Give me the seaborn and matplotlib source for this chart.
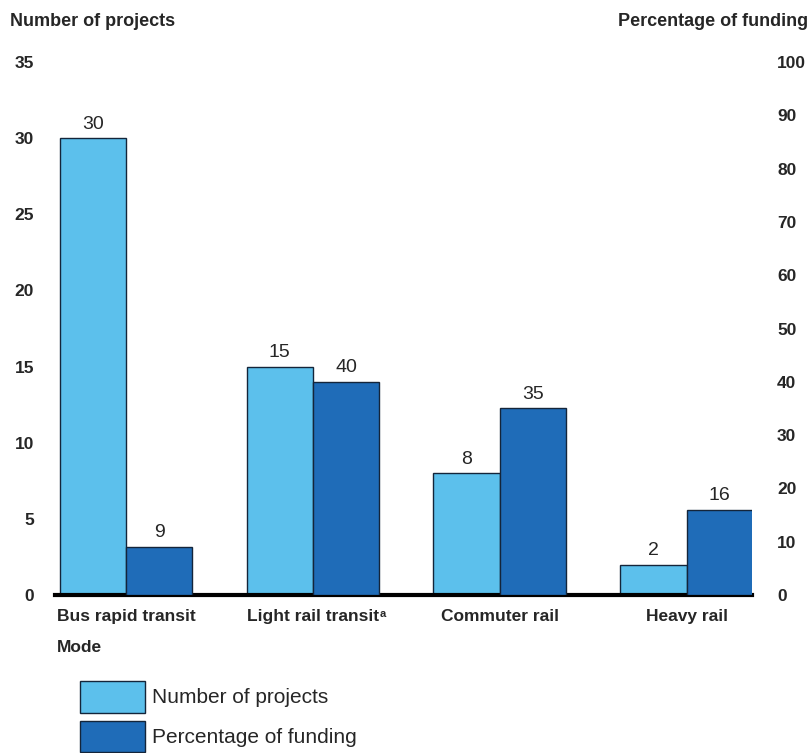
import matplotlib.pyplot as plt
import seaborn as sns
import pandas as pd
from matplotlib.patches import Patch

# data
modes = ["Bus rapid transit", "Light rail transit", "Commuter rail", "Heavy rail"]
num_projects = [30, 15, 8, 2]
pct_funding = [9, 40, 35, 16]
series = ["Number of projects", "Percentage of funding"]
colors = ["#5cc0ec", "#1f6cb8"]
left_ticks = [0, 5, 10, 15, 20, 25, 30, 35]
right_ticks = [0, 10, 20, 30, 40, 50, 60, 70, 80, 90, 100]

sns.set_style("white")
plt.rcParams['font.family'] = ['Liberation Sans', 'DejaVu Sans']

df_num = pd.DataFrame({"mode": modes, "value": num_projects, "series": series[0]})
df_pct = pd.DataFrame({"mode": modes, "value": pct_funding, "series": series[1]})

fig = plt.figure(figsize=(8.1, 7.53), dpi=100)
ax = fig.add_axes([55 / 810, 158 / 753, (752 - 55) / 810, (691 - 158) / 753])
edge = "#14253a"

sns.barplot(data=df_num, x="mode", y="value", hue="series", hue_order=series,
            palette=colors, saturation=1, dodge=True, width=0.71, edgecolor=edge,
            linewidth=1, legend=False, ax=ax)
ax2 = ax.twinx()
sns.barplot(data=df_pct, x="mode", y="value", hue="series", hue_order=series,
            palette=colors, saturation=1, dodge=True, width=0.71, edgecolor=edge,
            linewidth=1, legend=False, ax=ax2)

ax.set_ylim(0, 35)
ax2.set_ylim(0, 100)
ax.set_xlim(-0.38, 3.35)

for c in ax.containers:
    ax.bar_label(c, padding=4, fontsize=14)
for c in ax2.containers:
    ax2.bar_label(c, padding=4, fontsize=14)

# axes styling
for a in (ax, ax2):
    for s in ["left", "right", "top"]:
        a.spines[s].set_visible(False)
    a.set_ylabel("")
    a.set_xlabel("")
ax2.spines["bottom"].set_visible(False)
ax.spines["bottom"].set_linewidth(3)
ax.spines["bottom"].set_color("black")

ax.set_yticks(left_ticks)
ax.set_yticklabels(left_ticks, fontweight="bold", fontsize=12.5)
ax.tick_params(axis="y", length=0, pad=15)
ax2.set_yticks(right_ticks)
ax2.set_yticklabels(right_ticks, fontweight="bold", fontsize=12.5)
ax2.tick_params(axis="y", length=0, pad=18)

ax.set_xticks(range(len(modes)))
ax.set_xticklabels(modes, fontweight="bold", fontsize=12.5)
ax.tick_params(axis="x", length=0, pad=10)

# superscript footnote mark on light rail label
ax.annotate("a", xy=(1, 1), xycoords=ax.get_xticklabels()[1], ha="left", va="top",
            fontsize=8, fontweight="bold", xytext=(0.5, 0), textcoords="offset points")

fig.text(10 / 810, 1 - 22 / 753, "Number of projects", fontweight="bold", fontsize=13, va="center")
fig.text(808 / 810, 1 - 22 / 753, "Percentage of funding", fontweight="bold", fontsize=13,
         va="center", ha="right")
fig.text(57 / 810, 1 - 648 / 753, "Mode", fontweight="bold", fontsize=12.5, va="center")

handles = [Patch(facecolor=colors[0], edgecolor=edge, label=series[0]),
           Patch(facecolor=colors[1], edgecolor=edge, label=series[1])]
fig.legend(handles=handles, loc="upper left", bbox_to_anchor=(80 / 810, 1 - 681 / 753),
           frameon=False, fontsize=15, handlelength=3.1, handleheight=1.95,
           labelspacing=0.4, borderpad=0, handletextpad=0.35, borderaxespad=0)

fig.savefig("out.png", dpi=100, facecolor="white")
